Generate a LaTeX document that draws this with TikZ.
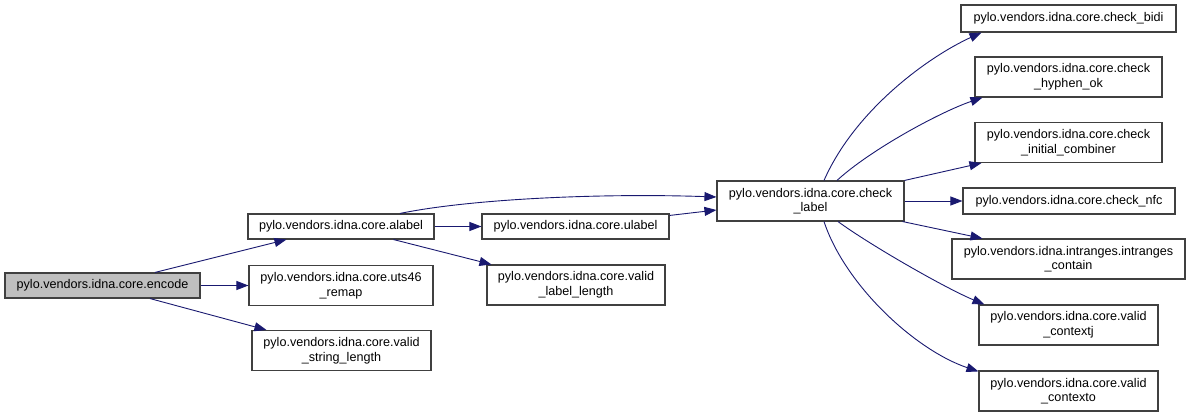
\documentclass[tikz,border=0pt]{standalone}
\usepackage{fontspec}
\setmainfont{Liberation Sans}
\usetikzlibrary{arrows.meta,calc}
\definecolor{edgeBlue}{RGB}{25, 25, 112}
\definecolor{boxGray}{RGB}{191, 191, 191}
\definecolor{boxLine}{RGB}{64, 64, 64}

\begin{document}
\begin{tikzpicture}[x=1pt, y=-1pt,
    fn/.style={draw=boxLine, line width=1.1pt, rectangle, inner sep=0pt, align=center,
      font=\fontsize{12.6}{14.6}\selectfont},
    call/.style={draw=edgeBlue, line width=0.9pt, -{Triangle[length=12pt,width=9pt]}, edgeBlue}]
  \useasboundingbox (0,0) rectangle (1191,417);

  % callers
  \node[fn, fill=boxGray, minimum width=195, minimum height=25] (encode) at (102.5,285.5) {pylo.vendors.idna.core.encode};
  \node[fn, minimum width=186, minimum height=25] (alabel) at (341,226.5) {pylo.vendors.idna.core.alabel};
  \node[fn, minimum width=184, minimum height=40] (uts) at (341,285.5) {pylo.vendors.idna.core.uts46\\\_remap};
  \node[fn, minimum width=179, minimum height=40] (vstr) at (341.5,350.5) {pylo.vendors.idna.core.valid\\\_string\_length};
  \node[fn, minimum width=187, minimum height=25] (ulabel) at (575.5,226.5) {pylo.vendors.idna.core.ulabel};
  \node[fn, minimum width=178, minimum height=40] (vlab) at (576,285) {pylo.vendors.idna.core.valid\\\_label\_length};
  \node[fn, minimum width=187, minimum height=40] (check) at (810.5,201) {pylo.vendors.idna.core.check\\\_label};

  % callees of check_label
  \node[fn, minimum width=215, minimum height=27] (bidi) at (1068.5,18.5) {pylo.vendors.idna.core.check\_bidi};
  \node[fn, minimum width=187, minimum height=40] (hyphen) at (1068.5,77) {pylo.vendors.idna.core.check\\\_hyphen\_ok};
  \node[fn, minimum width=187, minimum height=40] (comb) at (1068.5,142.5) {pylo.vendors.idna.core.check\\\_initial\_combiner};
  \node[fn, minimum width=212, minimum height=26] (nfc) at (1069,201) {pylo.vendors.idna.core.check\_nfc};
  \node[fn, minimum width=233, minimum height=40] (intr) at (1068.5,259) {pylo.vendors.idna.intranges.intranges\\\_contain};
  \node[fn, minimum width=179, minimum height=40] (ctxj) at (1068.5,325) {pylo.vendors.idna.core.valid\\\_contextj};
  \node[fn, minimum width=179, minimum height=40] (ctxo) at (1068.5,391) {pylo.vendors.idna.core.valid\\\_contexto};

  % calls
  \draw[call] ($(encode.north)+(52.5,0)$) -- ($(alabel.south west)+(39,0)$);
  \draw[call] (encode.east) -- (encode.east -| uts.west);
  \draw[call] ($(encode.south)+(47.5,0)$) -- ($(vstr.north west)+(15,0)$);
  \draw[call] (alabel.east) -- (ulabel.west);
  \draw[call] ($(alabel.south east)+(-41,0)$) -- ($(vlab.north west)+(5,0)$);
  \draw[call] ($(alabel.north)+(59,0)$) .. controls (470,199) and (600,193) .. ($(check.west)+(0,-4)$);
  \draw[call] ($(ulabel.north east)+(0,2)$) -- ($(check.west)+(0,9)$);

  \draw[call] ($(check.north)+(13.5,0)$) .. controls (855,110) and (928,57) .. ($(bidi.south west)+(21,0)$);
  \draw[call] ($(check.north)+(26.5,0)$) .. controls (870,150) and (940,112) .. ($(hyphen.south west)+(8,0)$);
  \draw[call] (check.north east) -- ($(comb.south west)+(7,0)$);
  \draw[call] (check.east) -- (nfc.west);
  \draw[call] ($(check.south east)+(-2,0)$) -- ($(intr.north west)+(31,0)$);
  \draw[call] ($(check.south)+(27.5,0)$) .. controls (870,245) and (945,288) .. ($(ctxj.north west)+(6,0)$);
  \draw[call] ($(check.south)+(13.5,0)$) .. controls (845,285) and (915,350) .. ($(ctxo.north west)+(0,1)$);
\end{tikzpicture}
\end{document}
